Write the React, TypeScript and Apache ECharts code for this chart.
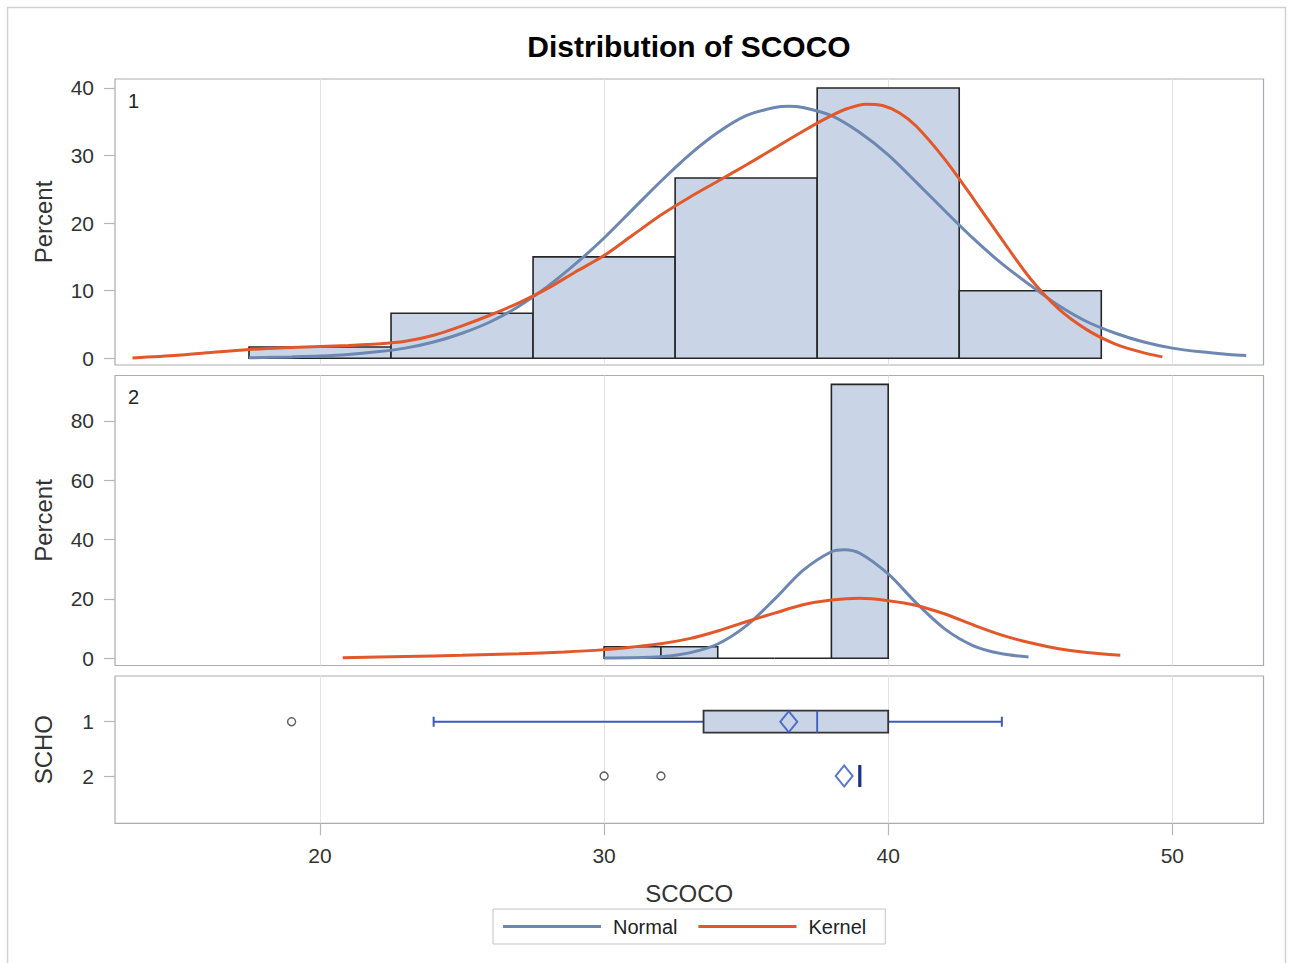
import React, { useEffect, useRef } from "react";
import * as echarts from "echarts";

// ---- axis ticks ----
const xTicks = [20, 30, 40, 50];
const pctTicks1 = [0, 10, 20, 30, 40];
const pctTicks2 = [0, 20, 40, 60, 80];
const schoTicks = [1, 2];

// ---- histogram, SCHO = 1 (percent) ----
const bins1Lo = [17.5, 22.5, 27.5, 32.5, 37.5, 42.5];
const bins1Hi = [22.5, 27.5, 32.5, 37.5, 42.5, 47.5];
const bins1Pct = [1.67, 6.67, 15.0, 26.67, 40.0, 10.0];

// ---- histogram, SCHO = 2 (percent) ----
const bins2Lo = [30, 32, 34, 36, 38];
const bins2Hi = [32, 34, 36, 38, 40];
const bins2Pct = [3.85, 3.85, 0, 0, 92.3];

// ---- fitted curves [SCOCO, percent] ----
const normal1 = [
  [17.5, 0.07], [19, 0.2], [20, 0.32], [21, 0.55], [22, 0.95], [23, 1.5], [24, 2.4],
  [25, 3.7], [26, 5.4], [27, 7.7], [28, 10.6], [29, 14.0], [30, 17.8], [31, 22.0],
  [32, 26.2], [33, 30.1], [34, 33.4], [35, 35.9], [36, 37.1], [36.5, 37.3], [37, 37.1],
  [38, 35.9], [39, 33.4], [40, 30.1], [41, 26.0], [42, 21.8], [43, 17.7], [44, 14.0],
  [45, 10.8], [46, 7.8], [47, 5.4], [48, 3.7], [49, 2.4], [50, 1.5], [51, 0.95],
  [52, 0.56], [52.6, 0.4],
];
const kernel1 = [
  [13.4, 0.05], [15, 0.44], [16, 0.8], [17.5, 1.3], [19, 1.6], [20, 1.75], [21, 1.9],
  [22, 2.1], [23, 2.5], [24, 3.4], [25, 4.8], [26, 6.4], [27, 8.2], [28, 10.3],
  [29, 12.8], [30, 15.2], [31, 18.2], [32, 21.2], [33, 23.8], [34, 26.2], [35, 28.6],
  [36, 31.1], [37, 33.6], [38, 35.9], [38.6, 37.0], [39.2, 37.6], [39.8, 37.4],
  [40.4, 36.3], [41, 34.3], [42, 29.4], [43, 23.6], [44, 17.6], [45, 11.8], [46, 7.3],
  [47, 4.2], [48, 2.1], [49, 0.8], [49.65, 0.2],
];
const normal2 = [
  [30, 0.1], [31, 0.15], [32, 0.5], [33, 1.8], [34, 4.8], [35, 10.9], [36, 19.9],
  [37, 29.6], [38, 35.9], [38.45, 36.6], [39, 35.4], [40, 28.4], [41, 18.5], [42, 9.8],
  [43, 4.2], [44, 1.5], [44.94, 0.45],
];
const kernel2 = [
  [20.8, 0.2], [23, 0.6], [25, 1.0], [27, 1.5], [28.6, 2.1], [30, 2.9], [31, 3.8],
  [32, 4.9], [33, 6.6], [34, 9.2], [35, 12.3], [36, 15.2], [37, 18.0], [38, 19.6],
  [39, 20.2], [40, 19.4], [41, 17.8], [42, 14.9], [43, 11.2], [44, 7.8], [45, 5.2],
  [46, 3.2], [47, 1.9], [48.17, 1.0],
];

// ---- box plot by SCHO ----
const boxCat = [1, 2];
const boxWhiskerLo = [24, 39];
const boxQ1 = [33.5, 39];
const boxMedian = [37.5, 39];
const boxQ3 = [40, 39];
const boxWhiskerHi = [44, 39];
const boxMean = [36.5, 38.45];
const outlierX = [19, 30, 32];
const outlierCat = [1, 2, 2];

const XMIN = 12.784;
const XMAX = 53.21;
const FONT = "'Liberation Sans', Arial, Helvetica, sans-serif";

const FILL = "#c9d5e7";
const EDGE = "#262626";
const BLUE_LINE = "#6c87b1";
const ORANGE = "#e2582a";
const BOX_BLUE = "#3a5bbd";
const FRAME = "#a9adb2";
const TICK = "#b4b8bc";

function histRender(params: any, api: any) {
  const lo = api.value(0);
  const hi = api.value(1);
  const v = api.value(2);
  const p0 = api.coord([lo, 0]);
  const p1 = api.coord([hi, v]);
  return {
    type: "polygon",
    shape: { points: [[p0[0], p0[1]], [p1[0], p0[1]], [p1[0], p1[1]], [p0[0], p1[1]]] },
    style: { fill: FILL, stroke: EDGE, lineWidth: 1.6 },
  };
}

function boxRender(params: any, api: any) {
  const cat = api.value(0);
  const wlo = api.value(1);
  const q1 = api.value(2);
  const med = api.value(3);
  const q3 = api.value(4);
  const whi = api.value(5);
  const h = 11;
  const cap = 5;
  const pWlo = api.coord([wlo, cat]);
  const pQ1 = api.coord([q1, cat]);
  const pMed = api.coord([med, cat]);
  const pQ3 = api.coord([q3, cat]);
  const pWhi = api.coord([whi, cat]);
  const y = pQ1[1];
  const children: any[] = [];
  const ls = { stroke: BOX_BLUE, lineWidth: 2 };
  if (wlo < q1) {
    children.push({ type: "line", shape: { x1: pWlo[0], y1: y, x2: pQ1[0], y2: y }, style: ls });
    children.push({ type: "line", shape: { x1: pWlo[0], y1: y - cap, x2: pWlo[0], y2: y + cap }, style: ls });
  }
  if (whi > q3) {
    children.push({ type: "line", shape: { x1: pQ3[0], y1: y, x2: pWhi[0], y2: y }, style: ls });
    children.push({ type: "line", shape: { x1: pWhi[0], y1: y - cap, x2: pWhi[0], y2: y + cap }, style: ls });
  }
  const collapsed = q3 <= q1;
  if (!collapsed) {
    children.push({
      type: "polygon",
      shape: { points: [[pQ1[0], y - h], [pQ3[0], y - h], [pQ3[0], y + h], [pQ1[0], y + h]] },
      style: { fill: FILL, stroke: "#333", lineWidth: 1.8 },
    });
  }
  children.push({
    type: "line",
    shape: { x1: pMed[0], y1: y - h, x2: pMed[0], y2: y + h },
    style: collapsed ? { stroke: "#1b2f8c", lineWidth: 3.2 } : { stroke: BOX_BLUE, lineWidth: 1.8 },
  });
  return { type: "group", children };
}

function App() {
  const ref = useRef<HTMLDivElement>(null);

  useEffect(() => {
    if (!ref.current) return;
    const chart = echarts.init(ref.current, undefined, { renderer: "svg" });

    const grids = [
      { left: 115, top: 79, width: 1148.5, height: 286 },
      { left: 115, top: 375.5, width: 1148.5, height: 290 },
      { left: 115, top: 676, width: 1148.5, height: 147.3 },
    ].map((g) => ({ ...g, show: true, borderColor: FRAME, borderWidth: 1.2, backgroundColor: "#fff", containLabel: false }));

    const xAxes = [0, 1, 2].map((i) => ({
      type: "value",
      gridIndex: i,
      min: XMIN,
      max: XMAX,
      axisLine: { show: false },
      axisTick: { show: i === 2, length: 12, lineStyle: { color: TICK, width: 1.2 }, customValues: xTicks },
      axisLabel: {
        show: i === 2,
        customValues: xTicks,
        margin: 22,
        fontSize: 21,
        color: "#333",
        fontFamily: FONT,
      },
      splitLine: { show: true, lineStyle: { color: "#e3e3e3", width: 1 } },
      name: i === 2 ? "SCOCO" : "",
      nameLocation: "middle",
      nameGap: 58,
      nameTextStyle: { fontSize: 24, color: "#333", fontFamily: FONT },
    }));

    const yCommon = {
      type: "value",
      axisLine: { show: false },
      splitLine: { show: false },
      nameLocation: "middle",
      nameGap: 60,
      nameTextStyle: { fontSize: 24, color: "#333", fontFamily: FONT },
    };
    const yAxes = [
      {
        ...yCommon,
        gridIndex: 0,
        min: -1.0,
        max: 41.33,
        name: "Percent",
        axisTick: { show: true, length: 11, lineStyle: { color: TICK, width: 1.2 }, customValues: pctTicks1 },
        axisLabel: { customValues: pctTicks1, margin: 21, fontSize: 21, color: "#333", fontFamily: FONT },
      },
      {
        ...yCommon,
        gridIndex: 1,
        min: -2.45,
        max: 95.3,
        name: "Percent",
        axisTick: { show: true, length: 11, lineStyle: { color: TICK, width: 1.2 }, customValues: pctTicks2 },
        axisLabel: { customValues: pctTicks2, margin: 21, fontSize: 21, color: "#333", fontFamily: FONT },
      },
      {
        ...yCommon,
        gridIndex: 2,
        min: 0.158,
        max: 2.871,
        inverse: true,
        name: "SCHO",
        axisTick: { show: true, length: 11, lineStyle: { color: TICK, width: 1.2 }, customValues: schoTicks },
        axisLabel: { customValues: schoTicks, margin: 21, fontSize: 21, color: "#333", fontFamily: FONT },
      },
    ];

    const hist1 = bins1Lo.map((lo, i) => [lo, bins1Hi[i], bins1Pct[i]]);
    const hist2 = bins2Lo.map((lo, i) => [lo, bins2Hi[i], bins2Pct[i]]);
    const boxData = boxCat.map((c, i) => [c, boxWhiskerLo[i], boxQ1[i], boxMedian[i], boxQ3[i], boxWhiskerHi[i]]);
    const meanData = boxCat.map((c, i) => [boxMean[i], c]);
    const outData = outlierX.map((x, i) => [x, outlierCat[i]]);

    const curve = (name: string, color: string, data: number[][], idx: number) => ({
      type: "line",
      name,
      xAxisIndex: idx,
      yAxisIndex: idx,
      data,
      smooth: 0.3,
      symbol: "none",
      color,
      lineStyle: { color, width: 3 },
      z: 5,
    });

    chart.setOption({
      animation: false,
      backgroundColor: "#fff",
      title: {
        text: "Distribution of SCOCO",
        left: 684,
        textAlign: "center",
        top: 26,
        textStyle: { fontSize: 30, fontWeight: "bold", color: "#000", fontFamily: FONT },
      },
      legend: {
        data: ["Normal", "Kernel"],
        left: 493,
        top: 909,
        orient: "horizontal",
        padding: [7, 19, 7, 10],
        itemGap: 21,
        itemWidth: 98,
        itemHeight: 3,
        icon: "rect",
        borderColor: "#c4c4c4",
        borderWidth: 1,
        textStyle: { fontSize: 20, color: "#222", fontFamily: FONT, padding: [0, 0, 0, 7], lineHeight: 21 },
      },
      grid: grids,
      xAxis: xAxes,
      yAxis: yAxes,
      graphic: [
        {
          type: "rect",
          shape: { x: 7.5, y: 7.5, width: 1278, height: 975 },
          style: { fill: "none", stroke: "#d2d2d2", lineWidth: 1.5 },
          silent: true,
          z: -10,
        },
        { type: "text", left: 128, top: 91, style: { text: "1", fontSize: 20, fill: "#222", fontFamily: FONT } },
        { type: "text", left: 128, top: 387, style: { text: "2", fontSize: 20, fill: "#222", fontFamily: FONT } },
      ],
      series: [
        {
          type: "custom",
          name: "hist1",
          xAxisIndex: 0,
          yAxisIndex: 0,
          renderItem: histRender,
          encode: { x: [0, 1], y: 2 },
          data: hist1,
          z: 2,
        },
        {
          type: "custom",
          name: "hist2",
          xAxisIndex: 1,
          yAxisIndex: 1,
          renderItem: histRender,
          encode: { x: [0, 1], y: 2 },
          data: hist2,
          z: 2,
        },
        curve("Normal", BLUE_LINE, normal1, 0),
        curve("Kernel", ORANGE, kernel1, 0),
        curve("Normal", BLUE_LINE, normal2, 1),
        curve("Kernel", ORANGE, kernel2, 1),
        {
          type: "custom",
          name: "box",
          xAxisIndex: 2,
          yAxisIndex: 2,
          renderItem: boxRender,
          encode: { x: [1, 2, 3, 4, 5], y: 0 },
          data: boxData,
          z: 3,
        },
        {
          type: "scatter",
          name: "mean",
          xAxisIndex: 2,
          yAxisIndex: 2,
          data: meanData,
          symbol: "diamond",
          symbolSize: [17, 21],
          itemStyle: { color: "rgba(255,255,255,0)", borderColor: "#2f52c0", borderWidth: 2 },
          z: 6,
        },
        {
          type: "scatter",
          name: "outlier",
          xAxisIndex: 2,
          yAxisIndex: 2,
          data: outData,
          symbol: "circle",
          symbolSize: 8,
          itemStyle: { color: "#fff", borderColor: "#333", borderWidth: 1.4 },
          z: 6,
        },
      ],
    });

    return () => {
      chart.dispose();
    };
  }, []);

  return (
    <div
      ref={ref}
      style={{ position: "absolute", left: 0, top: 0, width: 1293, height: 963, background: "#fff" }}
    />
  );
}

export default App;
